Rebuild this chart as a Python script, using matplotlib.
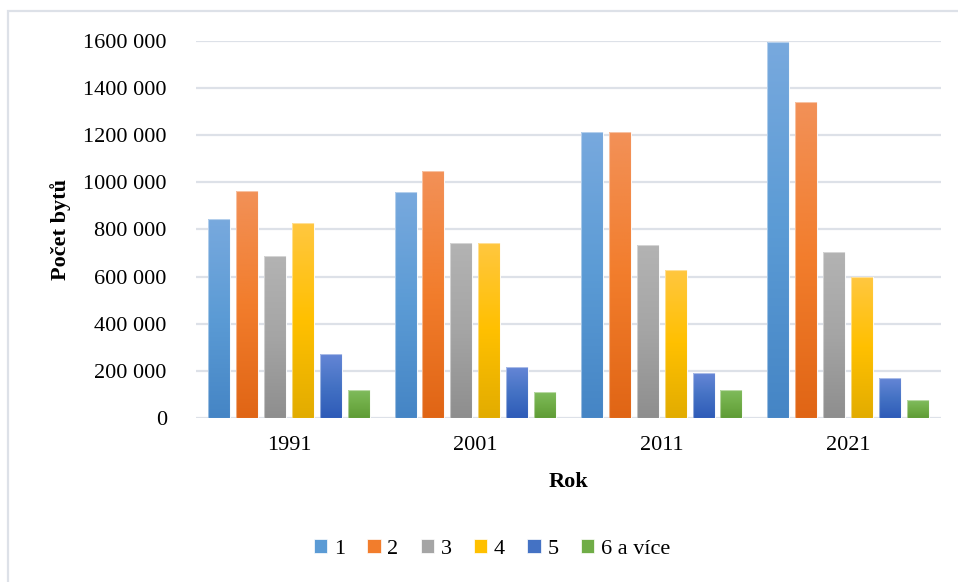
import numpy as np
import matplotlib
matplotlib.use("Agg")
import matplotlib.pyplot as plt
from matplotlib.colors import LinearSegmentedColormap
from matplotlib.patches import Patch, Rectangle

# data
years = ["1991", "2001", "2011", "2021"]
series = ["1", "2", "3", "4", "5", "6 a více"]
v1 = [843000, 958000, 1214000, 1597000]
v2 = [964000, 1050000, 1214000, 1340000]
v3 = [686000, 744000, 734000, 703000]
v4 = [827000, 744000, 629000, 598000]
v5 = [273000, 216000, 190000, 168000]
v6 = [120000, 112000, 120000, 76000]
values = [v1, v2, v3, v4, v5, v6]
yticks = [0, 200000, 400000, 600000, 800000, 1000000, 1200000, 1400000, 1600000]

# gradient colours per series (top, middle, bottom)
grads = [
    ("#78a9de", "#5b9bd5", "#4585c5"),
    ("#f29158", "#f27d2c", "#e06515"),
    ("#b3b3b3", "#a5a5a5", "#8e8e8e"),
    ("#ffc740", "#ffc000", "#e2ac00"),
    ("#6586d6", "#4472c4", "#2e5bb8"),
    ("#80bc5e", "#70ad47", "#5f9c36"),
]

plt.rcParams['font.family'] = ['Liberation Serif', 'DejaVu Serif']

W, H = 958, 582
fig = plt.figure(figsize=(W / 100, H / 100), dpi=100)
ax = fig.add_axes([196 / W, (H - 418) / H, 745 / W, (418 - 41) / H])

n = len(series)
slot = 0.15
width = 0.118
x = np.arange(len(years))

for i in range(n):
    offs = (i - (n - 1) / 2) * slot
    bars = ax.bar(x + offs, values[i], width, color=grads[i][1], zorder=2,
                  edgecolor="white", linewidth=0.6)
    cmap = LinearSegmentedColormap.from_list("g%d" % i, [grads[i][2], grads[i][1], grads[i][0]])
    for b in bars:
        bx, by = b.get_x(), b.get_y()
        bw, bh = b.get_width(), b.get_height()
        grad = np.linspace(0, 1, 256).reshape(-1, 1)
        im = ax.imshow(grad, extent=[bx, bx + bw, by, by + bh], origin="lower",
                       aspect="auto", cmap=cmap, zorder=2.5)
        im.set_clip_path(b)
        ax.add_patch(Rectangle((bx, by), bw, bh, fill=False,
                               edgecolor=(1, 1, 1, 0.45), linewidth=0.8, zorder=3))

ax.set_xlim(-0.5, len(years) - 0.5)
ax.set_ylim(0, 1600000)
ax.set_yticks(yticks)
ax.set_yticklabels(["0" if v == 0 else "%d %03d" % (v // 1000, v % 1000) for v in yticks],
                   fontsize=16)
ax.set_xticks(x)
ax.set_xticklabels(years, fontsize=16)
ax.tick_params(axis="y", length=0, pad=21)
ax.tick_params(axis="x", length=0, pad=13)
ax.grid(axis="y", color="#dde1e8", linewidth=1.6, zorder=0)
for s in ax.spines.values():
    s.set_visible(False)
ax.set_axisbelow(True)

ax.set_ylabel("Počet bytů", fontsize=16, fontweight="bold")
ax.yaxis.set_label_coords((71 - 196) / 745, 0.5)
ax.set_xlabel("Rok", fontsize=16, fontweight="bold")
ax.xaxis.set_label_coords(0.5, (418 - 472) / 377)

handles = [Patch(facecolor=grads[i][1], edgecolor="white", linewidth=0.5) for i in range(n)]
fig.legend(handles, series, loc="center", bbox_to_anchor=(492 / W, (H - 549) / H),
           ncol=n, frameon=False, fontsize=16, handlelength=0.6, handleheight=0.6,
           handletextpad=0.3, columnspacing=1.0)

# chart area border (only left and top edges fall inside the image)
fig.patches.append(Rectangle((8 / W, -0.1), 2, (H - 11) / H + 0.1, transform=fig.transFigure,
                             fill=False, edgecolor="#dde1e8", linewidth=1.6))

fig.savefig("out.png", dpi=100)
